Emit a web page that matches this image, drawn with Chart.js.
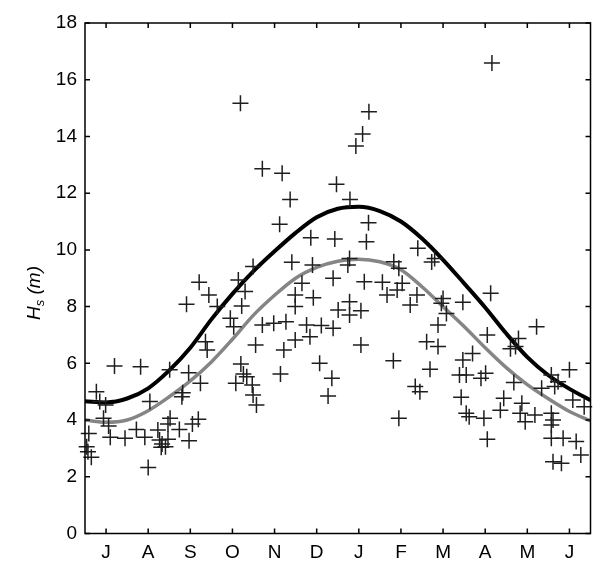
<!DOCTYPE html>
<html>
<head>
<meta charset="utf-8">
<script src="https://cdn.jsdelivr.net/npm/chart.js@4.4.1/dist/chart.umd.min.js"></script>
<style>
  html, body { margin: 0; padding: 0; background: #fff; overflow: hidden; }
  #wrap { position: relative; width: 600px; height: 561px; }
</style>
</head>
<body>
<div id="wrap"><canvas id="grafico"></canvas></div>
<script>
// months from start of July (0) to end of June (12)
const monthTicks = [0.5, 1.5, 2.5, 3.5, 4.5, 5.5, 6.5, 7.5, 8.5, 9.5, 10.5, 11.5];
const monthLabels = ['J', 'A', 'S', 'O', 'N', 'D', 'J', 'F', 'M', 'A', 'M', 'J'];
const yTicks = [0, 2, 4, 6, 8, 10, 12, 14, 16, 18];

// observed storm Hs (m)
const obsMonth = [
  3.69, 6.74, 6.59, 6.43, 4.21, 4.68, 5.97, 4.87, 6.29, 4.62, 6.73, 5.36, 5.93, 6.68, 7.90, 9.66,
  4.91, 5.40, 6.28, 6.24, 7.33, 7.45, 5.89, 6.63, 7.06, 7.53, 7.41, 7.17, 5.15, 4.99, 5.42, 4.99,
  6.28, 6.01, 6.28, 6.55, 7.88, 7.72, 4.21, 4.48, 4.77, 5.26, 5.61, 5.89, 5.34, 4.99, 4.05, 4.72,
  6.55, 2.71, 2.94, 2.41, 3.14, 3.64, 3.80, 3.72, 3.45, 3.53, 3.99, 2.86, 2.90, 0.27, 0.35, 0.49,
  0.44, 0.56, 0.09, 0.60, 0.95, 0.04, 0.07, 0.15, 0.70, 1.32, 1.54, 1.22, 1.42, 1.50, 1.73, 1.77,
  1.83, 1.81, 1.97, 1.91, 2.02, 1.97, 2.24, 2.47, 2.55, 2.69, 2.32, 2.30, 2.74, 2.01, 2.46, 3.70,
  3.76, 3.84, 3.58, 3.97, 3.99, 4.07, 4.64, 5.57, 5.86, 5.77, 7.32, 7.84, 7.95, 7.45, 8.30, 8.23,
  9.63, 8.97, 8.50, 8.46, 8.58, 8.38, 8.11, 8.38, 9.55, 10.29, 10.22, 10.10, 10.72, 9.20, 8.19, 8.97,
  8.89, 9.05, 9.40, 9.51, 8.93, 9.05, 9.12, 9.47, 9.55, 10.18, 9.94, 9.86, 10.37, 10.33, 10.45, 10.68,
  10.84, 11.07, 11.23, 11.15, 11.50, 11.58, 11.85, 11.07, 11.11, 11.07, 11.07, 11.35, 11.66, 11.77, 11.11, 11.31
];
const obsHs = [
  15.17, 14.87, 14.09, 13.66, 12.86, 12.70, 12.31, 11.78, 11.78, 10.90, 10.96, 10.43, 10.38, 10.29, 10.06, 16.59,
  9.56, 9.47, 9.70, 9.47, 9.58, 9.35, 9.00, 8.88, 8.86, 8.82, 8.59, 8.41, 8.82, 8.41, 8.31, 8.00,
  8.17, 7.88, 7.70, 7.85, 8.41, 8.06, 7.35, 7.41, 7.47, 7.35, 7.33, 7.24, 6.94, 6.82, 6.65, 6.47,
  6.65, 8.86, 8.41, 8.08, 8.00, 8.94, 8.53, 8.02, 7.59, 7.29, 9.41, 6.76, 6.47, 5.00, 4.65, 4.53,
  4.06, 3.79, 3.53, 3.39, 3.36, 3.06, 2.88, 2.69, 5.91, 5.88, 4.65, 3.67, 3.39, 2.33, 3.65, 3.30,
  3.16, 3.04, 3.32, 3.06, 4.06, 3.86, 3.67, 3.27, 3.86, 4.03, 4.96, 4.82, 5.30, 5.77, 5.67, 5.98,
  5.62, 5.53, 5.30, 5.24, 4.88, 4.53, 5.62, 6.00, 5.47, 4.85, 6.09, 5.18, 5.00, 4.06, 9.70, 9.57,
  8.47, 8.15, 8.29, 8.12, 7.76, 7.35, 6.76, 6.59, 7.00, 6.88, 6.59, 6.51, 7.29, 6.35, 5.79, 6.12,
  5.59, 5.59, 5.47, 5.65, 4.80, 4.24, 4.12, 4.06, 3.32, 5.32, 4.77, 4.35, 4.59, 4.24, 3.94, 4.18,
  5.12, 5.59, 5.35, 5.18, 5.77, 4.71, 4.47, 4.24, 4.00, 3.83, 3.36, 3.36, 3.24, 2.77, 2.53, 2.48
];

// seasonal curves
const curveMonth = [0, 0.5, 1, 1.5, 2, 2.5, 3, 3.5, 4, 4.5, 5, 5.5, 6, 6.5, 7, 7.5, 8, 8.5, 9, 9.5, 10, 10.5, 11, 11.5, 12];
const upperHs = [4.66, 4.62, 4.76, 5.12, 5.75, 6.55, 7.55, 8.45, 9.25, 9.95, 10.6, 11.15, 11.45, 11.52, 11.37, 11.0, 10.4, 9.65, 8.82, 7.97, 7.05, 6.22, 5.58, 5.1, 4.7];
const lowerHs = [4.0, 3.92, 4.0, 4.33, 4.82, 5.38, 6.05, 6.85, 7.7, 8.4, 9.0, 9.38, 9.6, 9.67, 9.58, 9.3, 8.7, 8.0, 7.3, 6.55, 5.85, 5.25, 4.75, 4.3, 3.97];

const FONT = 'Liberation Sans, Arial, sans-serif';

// box, inward ticks and the y title
const marco = {
  id: 'marco',
  afterDatasetsDraw(chart) {
    const { ctx, chartArea: a, scales: { x, y } } = chart;
    ctx.save();
    ctx.strokeStyle = '#000';
    ctx.lineWidth = 1.5;
    ctx.strokeRect(a.left, a.top, a.right - a.left, a.bottom - a.top);
    ctx.beginPath();
    monthTicks.forEach(v => {
      const px = x.getPixelForValue(v);
      ctx.moveTo(px, a.bottom); ctx.lineTo(px, a.bottom - 5);
      ctx.moveTo(px, a.top); ctx.lineTo(px, a.top + 5);
    });
    yTicks.forEach(v => {
      const py = y.getPixelForValue(v);
      ctx.moveTo(a.left, py); ctx.lineTo(a.left + 5, py);
      ctx.moveTo(a.right, py); ctx.lineTo(a.right - 5, py);
    });
    ctx.stroke();

    ctx.translate(34, 320);
    ctx.rotate(-Math.PI / 2);
    ctx.fillStyle = '#000';
    ctx.textBaseline = 'alphabetic';
    ctx.font = 'italic 19px ' + FONT;
    ctx.fillText('H', 0, 6);
    let w = ctx.measureText('H').width;
    ctx.font = 'italic 13px ' + FONT;
    ctx.fillText('s', w, 10);
    w += ctx.measureText('s').width;
    ctx.font = 'italic 19px ' + FONT;
    ctx.fillText(' (m)', w, 6);
    ctx.restore();
  }
};

const puntos = obsMonth.map((m, i) => ({ x: m, y: obsHs[i] }));
const curva = arr => curveMonth.map((m, i) => ({ x: m, y: arr[i] }));

new Chart(document.getElementById('grafico'), {
  type: 'scatter',
  data: {
    datasets: [
      {
        data: puntos,
        pointStyle: 'cross',
        pointRadius: 8,
        borderColor: '#1e1e1e',
        borderWidth: 1.5,
        clip: false
      },
      {
        data: curva(lowerHs),
        showLine: true,
        pointRadius: 0,
        borderColor: '#858585',
        borderWidth: 3.5,
        tension: 0.4,
        cubicInterpolationMode: 'monotone'
      },
      {
        data: curva(upperHs),
        showLine: true,
        pointRadius: 0,
        borderColor: '#000',
        borderWidth: 4,
        tension: 0.4,
        cubicInterpolationMode: 'monotone'
      }
    ]
  },
  options: {
    responsive: true,
    maintainAspectRatio: false,
    animation: false,
    layout: { padding: { top: 23, right: 2, left: 0, bottom: 0 } },
    plugins: { legend: { display: false }, tooltip: { enabled: false } },
    scales: {
      x: {
        type: 'linear',
        min: 0,
        max: 12,
        afterFit(s) { s.height = 27.5; },
        afterBuildTicks(s) { s.ticks = monthTicks.map(v => ({ value: v })); },
        grid: { display: false, drawTicks: false },
        border: { display: false },
        ticks: {
          autoSkip: false,
          maxRotation: 0,
          padding: 8,
          color: '#000',
          font: { family: FONT, size: 19 },
          callback: (v, i) => monthLabels[i]
        }
      },
      y: {
        min: 0,
        max: 18,
        afterFit(s) { s.width = 85; },
        afterBuildTicks(s) { s.ticks = yTicks.map(v => ({ value: v })); },
        grid: { display: false, drawTicks: false },
        border: { display: false },
        ticks: {
          padding: 8,
          color: '#000',
          font: { family: FONT, size: 19 }
        }
      }
    }
  },
  plugins: [marco]
});
</script>
</body>
</html>
